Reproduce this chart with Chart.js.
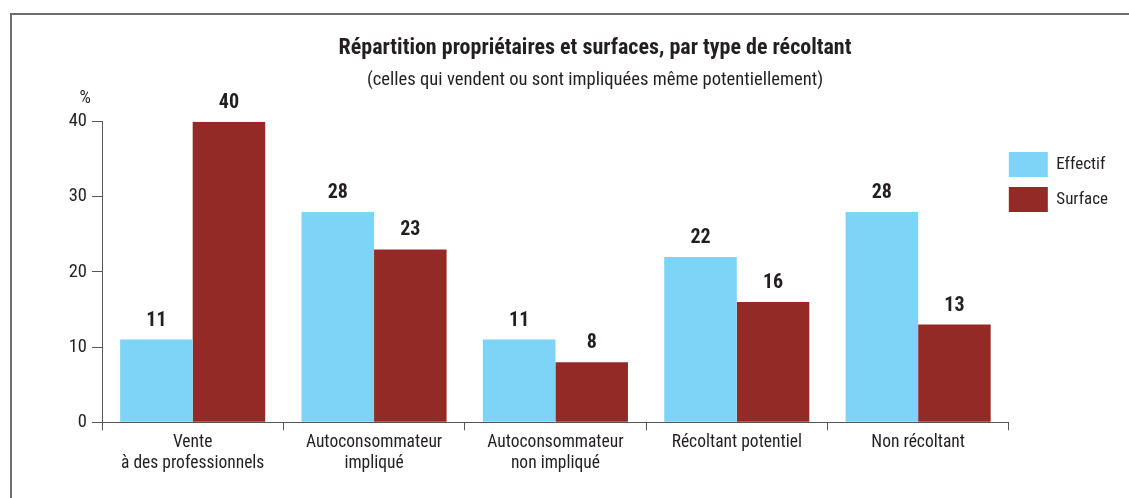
<!DOCTYPE html>
<html>
<head>
<meta charset="utf-8">
<script src="https://cdn.jsdelivr.net/npm/chart.js@4/dist/chart.umd.min.js"></script>
<style>
	html, body { margin: 0; padding: 0; background: #fff; overflow: hidden; }
	#wrap { position: relative; width: 1129px; height: 498px; }
	#frame { position: absolute; left: 10px; top: 13px; width: 1200px; height: 600px; border-left: 2px solid #6d6d6d; border-top: 2px solid #6d6d6d; }
	canvas { position: absolute; left: 0; top: 0; }
</style>
</head>
<body>
<div id="wrap">
	<div id="frame"></div>
	<canvas id="myChart" width="1129" height="498"></canvas>
</div>
<script>
const categories = [
	["Vente", "à des professionnels"],
	["Autoconsommateur", "impliqué"],
	["Autoconsommateur", "non impliqué"],
	"Récoltant potentiel",
	"Non récoltant",
];
const effectif = [11, 28, 11, 22, 28];
const surface = [40, 23, 8, 16, 13];
const yTicks = [0, 10, 20, 30, 40];

const FONT = "'Roboto Condensed', 'Open Sans', sans-serif";
const INK = "#231f20";

// value labels above bars + "%" unit
const barLabels = {
	id: "barLabels",
	afterUpdate(chart) {
		// legend boxes sit flush with the plot's right edge
		chart.legend.left -= 10;
		chart.legend.right -= 10;
	},
	afterDatasetsDraw(chart) {
		const ctx = chart.ctx;
		ctx.save();
		ctx.fillStyle = INK;
		ctx.font = "bold 20px " + FONT;
		ctx.textAlign = "center";
		ctx.textBaseline = "bottom";
		chart.data.datasets.forEach((ds, di) => {
			chart.getDatasetMeta(di).data.forEach((bar, i) => {
				ctx.fillText(ds.data[i], bar.x, bar.y - 9);
			});
		});
		const y = chart.scales.y;
		ctx.font = "18px " + FONT;
		ctx.textAlign = "right";
		ctx.fillText("%", y.right - 11, y.top - 14);
		ctx.restore();
	},
};

new Chart(document.getElementById("myChart"), {
	type: "bar",
	data: {
		labels: categories,
		datasets: [
			{ label: "Effectif", data: effectif, backgroundColor: "#7ed4f6" },
			{ label: "Surface", data: surface, backgroundColor: "#932a25" },
		],
	},
	options: {
		responsive: false,
		animation: false,
		layout: { padding: { top: 24, left: 62, right: 1, bottom: 22 } },
		datasets: { bar: { categoryPercentage: 0.8, barPercentage: 1.0 } },
		scales: {
			x: {
				grid: { drawOnChartArea: false, tickLength: 8, color: "#555", offset: true },
				border: { color: "#555" },
				ticks: { color: INK, font: { family: FONT, size: 17.5, lineHeight: 1.25 }, padding: 1, maxRotation: 0 },
			},
			y: {
				min: 0,
				max: 40,
				afterBuildTicks: (scale) => { scale.ticks = yTicks.map((v) => ({ value: v })); },
				afterFit: (scale) => { scale.width = 40; },
				grid: { drawOnChartArea: false, tickLength: 10, color: "#555" },
				border: { color: "#555" },
				ticks: { color: INK, font: { family: FONT, size: 18.5 }, padding: 5 },
			},
		},
		plugins: {
			title: {
				display: true,
				text: "Répartition propriétaires et surfaces, par type de récoltant",
				color: INK,
				font: { family: FONT, size: 22, weight: "bold" },
				padding: { top: 11, bottom: 7 },
			},
			subtitle: {
				display: true,
				text: "(celles qui vendent ou sont impliquées même potentiellement)",
				color: INK,
				font: { family: FONT, size: 18.6 },
				padding: { top: 1, bottom: 30 },
			},
			legend: {
				position: "right",
				align: "start",
				title: { display: true, text: " ", font: { size: 15 }, padding: { top: 100, bottom: 0 } },
				labels: {
					color: INK,
					boxWidth: 39,
					boxHeight: 25,
					padding: 10,
					font: { family: FONT, size: 17 },
				},
			},
			tooltip: { enabled: false },
		},
	},
	plugins: [barLabels],
});
</script>
</body>
</html>
